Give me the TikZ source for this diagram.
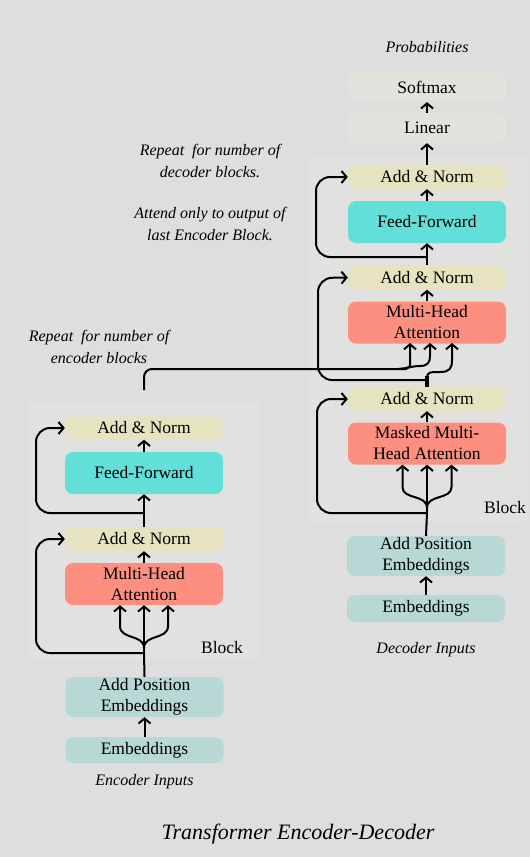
\documentclass[tikz,border=0pt]{standalone}
\usepackage{fontspec}
\setmainfont{Liberation Serif}
\usetikzlibrary{arrows.meta}
\definecolor{bg}{HTML}{DEDEDE}
\definecolor{panel}{HTML}{E1E2DF}
\definecolor{annorm}{HTML}{E6E4C0}
\definecolor{ffc}{HTML}{62DFD9}
\definecolor{mhac}{HTML}{FD8F80}
\definecolor{embc}{HTML}{B7D8D4}
\definecolor{linc}{HTML}{E1E3DC}
\tikzset{
  box/.style={rounded corners=8pt, minimum width=158pt, inner sep=0pt, align=center,
    font=\fontsize{17.5}{21}\selectfont},
  ann/.style={font=\fontsize{16}{22}\selectfont\itshape, align=center, inner sep=0pt},
  plain/.style={font=\fontsize{17.5}{20}\selectfont, inner sep=0pt},
  conn/.style={line width=2pt, black},
  arr/.style={conn, -{Straight Barb[length=5pt,width=12pt,line width=2pt]}},
  res/.style={arr, rounded corners=14pt},
}
\begin{document}
\begin{tikzpicture}[x=1pt,y=-1pt]
\fill[bg] (0,0) rectangle (530,857);
\useasboundingbox (0,0) rectangle (530,857);
% panels
\fill[panel, rounded corners=4pt] (27,402) rectangle (260,660);
\fill[panel, rounded corners=4pt] (310,155) rectangle (528,522);

% decoder boxes
\node[box, fill=linc, minimum height=30pt] (soft) at (427,87) {Softmax};
\node[box, fill=linc, minimum height=30pt] (lin) at (427,128) {Linear};
\node[box, fill=annorm, minimum height=24pt] (dan1) at (427,177) {Add \& Norm};
\node[box, fill=ffc, minimum height=42pt] (dff) at (427,222) {Feed-Forward};
\node[box, fill=annorm, minimum height=24pt] (dan2) at (427,277.5) {Add \& Norm};
\node[box, fill=mhac, minimum height=42pt] (dmha) at (427,322.5) {Multi-Head\\Attention};
\node[box, fill=annorm, minimum height=24pt] (dan3) at (427,399) {Add \& Norm};
\node[box, fill=mhac, minimum height=42pt] (dmmha) at (427,443.5) {Masked Multi-\\Head Attention};
\node[box, fill=embc, minimum height=40pt] (dape) at (426,556) {Add Position\\Embeddings};
\node[box, fill=embc, minimum height=27pt] (demb) at (426,608.5) {Embeddings};

% encoder boxes
\node[box, fill=annorm, minimum height=23pt] (ean1) at (144,428) {Add \& Norm};
\node[box, fill=ffc, minimum height=42pt] (eff) at (144,473) {Feed-Forward};
\node[box, fill=annorm, minimum height=24pt] (ean2) at (144,539) {Add \& Norm};
\node[box, fill=mhac, minimum height=42pt] (emha) at (144,584) {Multi-Head\\Attention};
\node[box, fill=embc, minimum height=40pt] (eape) at (144.5,697) {Add Position\\Embeddings};
\node[box, fill=embc, minimum height=26pt] (eemb) at (144.5,750) {Embeddings};

% labels
\node[ann] (prob) at (427,47) {Probabilities};
\node[ann] (rep1) at (210,161) {Repeat\ \ for number of\\decoder blocks.};
\node[ann] (att) at (210,224) {Attend only to output of\\last Encoder Block.};
\node[ann] (rep2) at (99,347) {Repeat\ \ for number of\\encoder blocks};
\node[plain] (eblk) at (222,648) {Block};
\node[plain] (dblk) at (505,508) {Block};
\node[ann] (ein) at (144.5,782) {Encoder Inputs};
\node[ann] (din) at (426,650) {Decoder Inputs};
\node[font=\fontsize{22}{26}\selectfont\itshape, inner sep=0pt] (title) at (298,834) {Transformer Encoder-Decoder};

% ---- encoder connectors
\draw[arr] (eemb.north) -- (eape.south);
\coordinate (ebr) at (144,653);
\draw[conn] (eape.north) -- (ebr);
\draw[arr] (ebr) -- (emha.south);
\coordinate (ef) at (144,648);
\coordinate (efl) at (120,626);
\coordinate (efr) at (168,626);
\draw[arr] (ef) .. controls (144,634) and (120,640) .. (efl) -- (efl |- emha.south);
\draw[arr] (ef) .. controls (144,634) and (168,640) .. (efr) -- (efr |- emha.south);
\draw[res] (ebr) -| (36,539) -- (ean2.west);
\draw[arr] (emha.north) -- (ean2.south);
\coordinate (ebr2) at (144,513);
\draw[conn] (ean2.north) -- (ebr2);
\draw[arr] (ebr2) -- (eff.south);
\draw[res] (ebr2) -| (36,428) -- (ean1.west);
\draw[arr] (eff.north) -- (ean1.south);

% encoder output to decoder cross-attention
\coordinate (eout) at (144,390);
\coordinate (xa) at (410,343);
\coordinate (xb) at (430,343);
\draw[arr, rounded corners=8pt] (eout) -- (144,369) -- (398,369) .. controls (406,369) and (410,366) .. (410,358) -- (xa);
\draw[arr] (398,369) .. controls (410,368) and (412,366) .. (420,366) .. controls (428,366) and (430,362) .. (430,356) -- (xb);

% ---- decoder connectors
\draw[arr] (demb.north) -- (dape.south);
\coordinate (dbr) at (427,513);
\draw[conn] (dape.north) -- (dbr);
\draw[arr] (dbr) -- (dmmha.south);
\coordinate (df) at (427,508);
\coordinate (dfl) at (402.5,487);
\coordinate (dfr) at (451.5,487);
\draw[arr] (df) .. controls (427,494) and (402.5,500) .. (dfl) -- (dfl |- dmmha.south);
\draw[arr] (df) .. controls (427,494) and (451.5,500) .. (dfr) -- (dfr |- dmmha.south);
\draw[res] (dbr) -| (317,399) -- (dan3.west);
\draw[arr] (dmmha.north) -- (dan3.south);
\coordinate (dtop) at (427,376);
\draw[line width=3.5pt] (dan3.north) -- (dtop);
\coordinate (xc) at (452,343);
\draw[arr] (427,378) .. controls (427,372) and (430,372) .. (440,372) .. controls (450,372) and (452,368) .. (452,360) -- (xc);
\coordinate (dbr2) at (427,380);
\draw[res] (dbr2) -| (318,278) -- (dan2.west);
\draw[arr] (dmha.north) -- (dan2.south);
\coordinate (dbr3) at (427,257);
\draw[conn] (dan2.north) -- (dbr3);
\draw[arr] (dbr3) -- (dff.south);
\draw[res] (dbr3) -| (316,177) -- (dan1.west);
\draw[arr] (dff.north) -- (dan1.south);
\draw[arr] (dan1.north) -- (lin.south);
\draw[arr] (lin.north) -- (soft.south);
\end{tikzpicture}
\end{document}
